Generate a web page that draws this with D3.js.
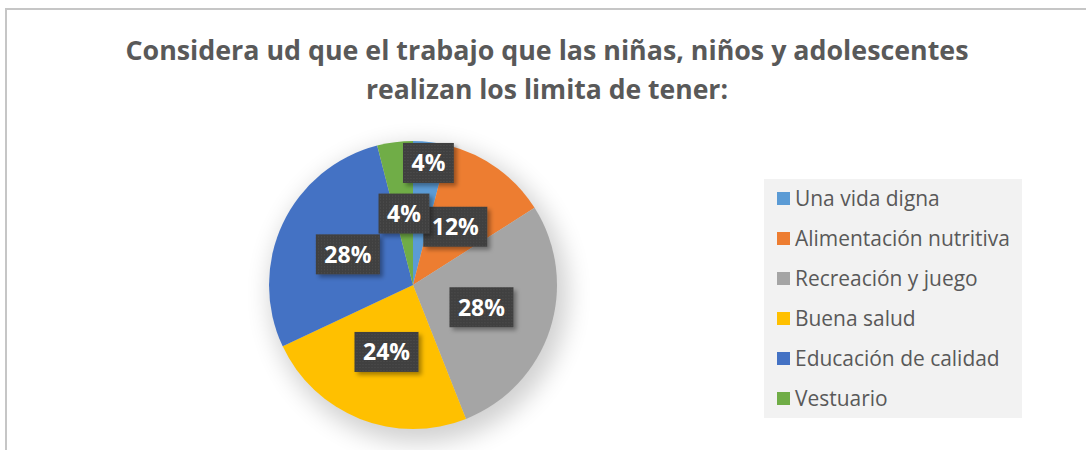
<!DOCTYPE html>
<html>
<head>
<meta charset="utf-8">
<script src="https://cdn.jsdelivr.net/npm/d3@7"></script>
<style>
  body { margin: 0; background: #fff; }
  svg { display: block; }
</style>
</head>
<body>
<div id="chart"></div>
<script>
const titleLines = ["Considera ud que el trabajo que las niñas, niños y adolescentes", "realizan los limita de tener:"];
const categories = ["Una vida digna", "Alimentación nutritiva", "Recreación y juego", "Buena salud", "Educación de calidad", "Vestuario"];
const values = [4, 12, 28, 24, 28, 4];
const colors = ["#5b9bd5", "#ed7d31", "#a5a5a5", "#ffc000", "#4472c4", "#70ad47"];

const width = 1086;
const height = 450;
const cx = 413, cy = 285, radius = 144;

const svg = d3.select("#chart")
    .append("svg")
    .attr("width", width)
    .attr("height", height);

const defs = svg.append("defs");

defs.append("filter")
    .attr("id", "pieShadow")
    .attr("x", "-30%").attr("y", "-30%").attr("width", "160%").attr("height", "160%")
    .append("feGaussianBlur")
    .attr("stdDeviation", 12);

const lblShadow = defs.append("filter")
    .attr("id", "lblShadow")
    .attr("x", "-30%").attr("y", "-30%").attr("width", "160%").attr("height", "160%");
lblShadow.append("feDropShadow")
    .attr("dx", 3).attr("dy", 3)
    .attr("stdDeviation", 2)
    .attr("flood-color", "#000")
    .attr("flood-opacity", 0.35);

const dots = defs.append("pattern")
    .attr("id", "dots")
    .attr("width", 3).attr("height", 3)
    .attr("patternUnits", "userSpaceOnUse");
dots.append("rect").attr("width", 3).attr("height", 3).attr("fill", "#404040");
dots.append("rect").attr("width", 1).attr("height", 1).attr("fill", "#4e4e4e");

// chart border (right and bottom are cut off in the reference)
svg.append("path")
    .attr("d", `M6,${height} V9 H${width}`)
    .attr("fill", "none")
    .attr("stroke", "#c6c6c6")
    .attr("stroke-width", 2);

// title
const title = svg.append("g")
    .attr("font-family", "Open Sans, sans-serif")
    .attr("font-weight", "bold")
    .attr("fill", "#595959");

const titleWidths = [843, 362];
const titleY = [60, 99];
titleLines.forEach((t, i) => {
    title.append("text")
        .attr("x", 547)
        .attr("y", titleY[i])
        .attr("text-anchor", "middle")
        .attr("font-size", 26)
        .attr("textLength", titleWidths[i])
        .attr("lengthAdjust", "spacingAndGlyphs")
        .text(t);
});

// pie
const data = categories.map((c, i) => ({ name: c, value: values[i], color: colors[i], index: i }));

const pie = d3.pie()
    .value(d => d.value)
    .sort(null);

const arc = d3.arc()
    .innerRadius(0)
    .outerRadius(radius);

const g = svg.append("g")
    .attr("transform", `translate(${cx}, ${cy})`);

g.append("circle")
    .attr("cx", 6)
    .attr("cy", 9)
    .attr("r", radius + 5)
    .attr("fill", "#000")
    .attr("opacity", 0.18)
    .attr("filter", "url(#pieShadow)");

const arcs = pie(data);

g.selectAll(".slice")
    .data(arcs)
    .enter()
    .append("path")
    .attr("class", "slice")
    .attr("d", arc)
    .attr("fill", d => d.data.color);

// data labels: start at the centroid, push outward when they collide
const boxH = 40;
const labelFont = 23;
const placed = [];
const labels = g.append("g")
    .attr("font-family", "Open Sans, sans-serif")
    .attr("font-weight", "bold")
    .attr("font-size", labelFont);

const order = arcs.slice().sort((a, b) => b.value - a.value || b.index - a.index);

order.forEach(a => {
    const txt = a.data.value + "%";
    const lg = labels.append("g");
    const t = lg.append("text")
        .attr("text-anchor", "middle")
        .attr("dy", "0.36em")
        .attr("fill", "#fff")
        .text(txt);
    const w = t.node().getComputedTextLength() + 17;
    const mid = (a.startAngle + a.endAngle) / 2;
    let r = radius / 2;
    let x, y;
    for (let k = 0; k < 60; k++) {
        x = Math.sin(mid) * r;
        y = -Math.cos(mid) * r;
        const hit = placed.some(p =>
            Math.abs(p.x - x) < (p.w + w) / 2 - 8 && Math.abs(p.y - y) < boxH + 10);
        if (!hit) break;
        r += 1;
    }
    placed.push({ x, y, w });
    lg.attr("transform", `translate(${x}, ${y})`);
    lg.insert("rect", "text")
        .attr("x", -w / 2)
        .attr("y", -boxH / 2)
        .attr("width", w)
        .attr("height", boxH)
        .attr("fill", "url(#dots)")
        .attr("filter", "url(#lblShadow)");
});

// legend
const legend = svg.append("g")
    .attr("transform", "translate(764, 179)");

legend.append("rect")
    .attr("width", 258)
    .attr("height", 239)
    .attr("fill", "#f2f2f2");

const items = legend.selectAll(".item")
    .data(data)
    .enter()
    .append("g")
    .attr("class", "item")
    .attr("transform", (d, i) => `translate(13, ${20 + i * 40})`);

items.append("rect")
    .attr("x", 0)
    .attr("y", -7)
    .attr("width", 13)
    .attr("height", 13)
    .attr("fill", d => d.color);

const legendText = items.append("text")
    .attr("x", 18)
    .attr("y", 7)
    .attr("font-family", "Open Sans, sans-serif")
    .attr("font-size", 20)
    .attr("fill", "#595959")
    .text(d => d.name);

// shrink legend font so the longest entry fits like the reference
const longest = d3.max(legendText.nodes(), n => n.getComputedTextLength());
const fs = 20 * 215 / longest;
legendText.attr("font-size", fs);
</script>
</body>
</html>
